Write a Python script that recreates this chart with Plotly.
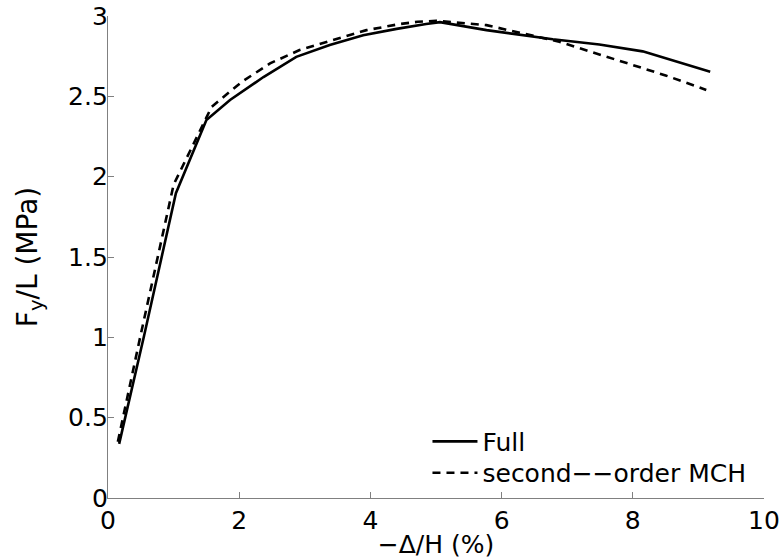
import plotly.graph_objects as go

# Normalised lateral load vs. drift for the two models
full_x = [0.17, 0.55, 1.035, 1.50, 1.86, 2.37, 2.87, 3.38, 3.89, 4.40, 4.85, 5.06, 5.77, 6.78, 7.49, 8.15, 9.18]
full_y = [0.337, 1.01, 1.897, 2.352, 2.477, 2.62, 2.746, 2.82, 2.88, 2.92, 2.95, 2.962, 2.912, 2.855, 2.823, 2.78, 2.653]

mch_x = [0.15, 0.49, 1.0, 1.58, 2.04, 2.47, 2.92, 3.43, 3.94, 4.45, 4.72, 5.0, 5.77, 6.88, 7.59, 8.5, 9.12]
mch_y = [0.35, 1.0, 1.95, 2.435, 2.59, 2.705, 2.788, 2.85, 2.912, 2.95, 2.964, 2.97, 2.943, 2.84, 2.748, 2.63, 2.54]

x_ticks = [0, 2, 4, 6, 8, 10]
y_ticks = [0, 0.5, 1, 1.5, 2, 2.5, 3]
y_tick_text = ["0", "0.5", "1", "1.5", "2", "2.5", "3"]

FONT = "DejaVu Sans, sans-serif"
FS = 25
AXIS_GRAY = "#808080"

fig = go.Figure()
fig.add_trace(go.Scatter(
    x=full_x, y=full_y, mode="lines", name="Full", legend="legend",
    line=dict(color="black", width=2.6),
))
fig.add_trace(go.Scatter(
    x=mch_x, y=mch_y, mode="lines", name="second\u2212\u2212order MCH", legend="legend2",
    line=dict(color="black", width=2.6, dash="8px,6px"),
))

axis_common = dict(
    showgrid=False, zeroline=False, showline=True, linecolor=AXIS_GRAY, linewidth=1.3,
    ticks="inside", ticklen=6, tickcolor=AXIS_GRAY, tickwidth=1,
    tickfont=dict(family=FONT, size=FS, color="black"),
    mirror=False, automargin=False,
)

legend_common = dict(
    xanchor="left", yanchor="middle",
    bgcolor="rgba(0,0,0,0)", borderwidth=0,
    font=dict(family=FONT, size=FS, color="black"),
    itemwidth=45,
)

fig.update_layout(
    width=783, height=559,
    margin=dict(l=108, r=19, t=16, b=61),
    paper_bgcolor="white", plot_bgcolor="white",
    showlegend=True,
    legend=dict(x=0.487, y=0.117, **legend_common),
    legend2=dict(x=0.487, y=0.052, **legend_common),
    xaxis=dict(
        range=[0, 10], tickvals=x_ticks, ticktext=[str(t) for t in x_ticks],
        ticklabelstandoff=0,
        title=dict(text="\u2212\u0394/H (%)", font=dict(family=FONT, size=FS, color="black"), standoff=0),
        **axis_common,
    ),
    yaxis=dict(
        range=[0, 3], tickvals=y_ticks, ticktext=y_tick_text,
        ticklabelstandoff=-6,
        title=dict(text="F<sub>y</sub>/L (MPa)", font=dict(family=FONT, size=28, color="black"), standoff=22),
        **axis_common,
    ),
)

fig.write_html("out.html")
